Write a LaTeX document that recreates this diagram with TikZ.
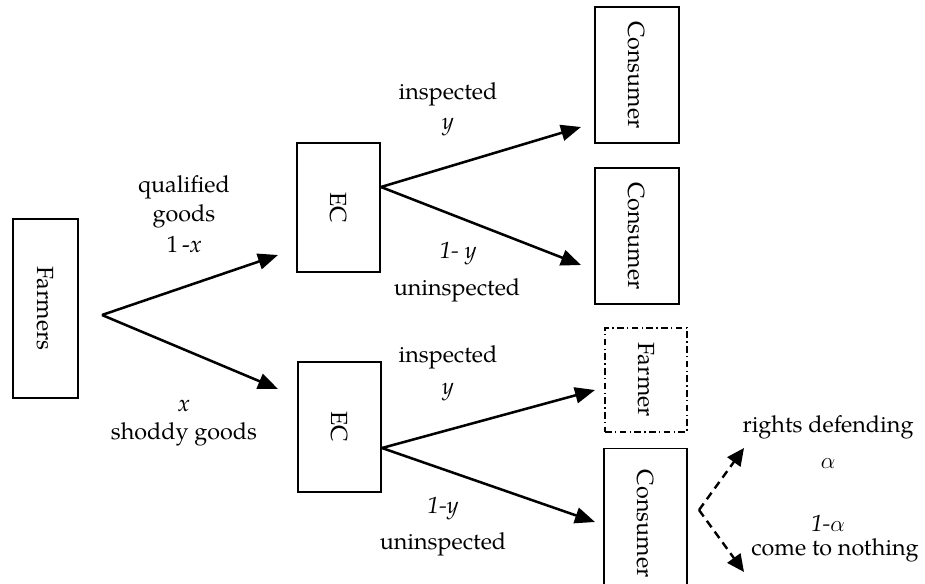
\documentclass[tikz,border=0pt]{standalone}
\usepackage{fontspec}
\setmainfont{TeX Gyre Pagella}
\usetikzlibrary{arrows.meta}
\begin{document}
\begin{tikzpicture}[x=0.75pt,y=-0.75pt,
  box/.style={draw,line width=1.1pt,inner sep=0pt,minimum width=#1},
  arr/.style={line width=1.9pt,-{Triangle[length=15pt,width=12pt]}},
  darr/.style={line width=1.8pt,dash pattern=on 6pt off 4pt,-{Triangle[length=13pt,width=12pt]}},
  lab/.style={font=\fontsize{17.5}{20}\selectfont,inner sep=0pt}]
\useasboundingbox (0,0) rectangle (925,583);
\tikzset{every node/.append style={font=\fontsize{17.5}{20}\selectfont}}
% boxes
\node[box=65*0.75pt,minimum height=179*0.75pt] (farmers) at (45.5,308.5) {\rotatebox{-90}{Farmers}};
\node[box=83*0.75pt,minimum height=129*0.75pt] (ec1) at (338.5,207.5) {\rotatebox{-90}{EC}};
\node[box=83*0.75pt,minimum height=130*0.75pt] (ec2) at (339.5,427) {\rotatebox{-90}{EC}};
\node[box=84*0.75pt,minimum height=136*0.75pt] (c1) at (637,75) {\rotatebox{-90}{Consumer}};
\node[box=84*0.75pt,minimum height=136*0.75pt] (c2) at (637,236) {\rotatebox{-90}{Consumer}};
\node[box=82*0.75pt,minimum height=104*0.75pt,dash pattern=on 5pt off 2.5pt on 1pt off 2.5pt] (f2) at (646,380) {\rotatebox{-90}{Farmer}};
\node[box=83*0.75pt,minimum height=150*0.75pt,anchor=north] (c3) at (645.5,448) {\rotatebox{-90}{Consumer}};
% split points and ends
\coordinate (s0) at (102,315);
\coordinate (s1) at (381,187);
\coordinate (s2) at (382,448);
\coordinate (s3) at (699,510);
\coordinate (e1) at (278,255);
\coordinate (e2) at (278,389);
\coordinate (e3) at (581,127);
\coordinate (e4) at (581,265);
\coordinate (e5) at (595,390);
\coordinate (e6) at (595,522);
\coordinate (e7) at (744,448);
\coordinate (e8) at (744,572);
\draw[arr] (s0) -- (e1);
\draw[arr] (s0) -- (e2);
\draw[arr] (s1) -- (e3);
\draw[arr] (s1) -- (e4);
\draw[arr] (s2) -- (e5);
\draw[arr] (s2) -- (e6);
\draw[darr] (s3) -- (e7);
\draw[darr] (s3) -- (e8);
% labels
\node[lab] (l1) at (184,187) {qualified};
\node[lab] (l2) at (184,216) {goods};
\node[lab] (l3) at (184,245) {1\,-\textit{x}};
\node[lab] (l4) at (184,406) {\textit{x}};
\node[lab] (l5) at (184,434) {shoddy goods};
\node[lab] (l6) at (448,94) {inspected};
\node[lab] (l7) at (448,127) {\textit{y}};
\node[lab] (l8) at (458,254) {\textit{1- y}};
\node[lab] (l9) at (457,290) {uninspected};
\node[lab] (l10) at (448,357) {inspected};
\node[lab] (l11) at (448,392) {\textit{y}};
\node[lab] (l12) at (443,509) {\textit{1-y}};
\node[lab] (l13) at (443,544) {uninspected};
\node[lab] (l14) at (828,427) {rights defending};
\node[lab] (l15) at (828,464) {$\alpha$};
\node[lab] (l16) at (828,523) {\textit{1-}$\alpha$};
\node[lab] (l17) at (835,550) {come to nothing};
\end{tikzpicture}
\end{document}
